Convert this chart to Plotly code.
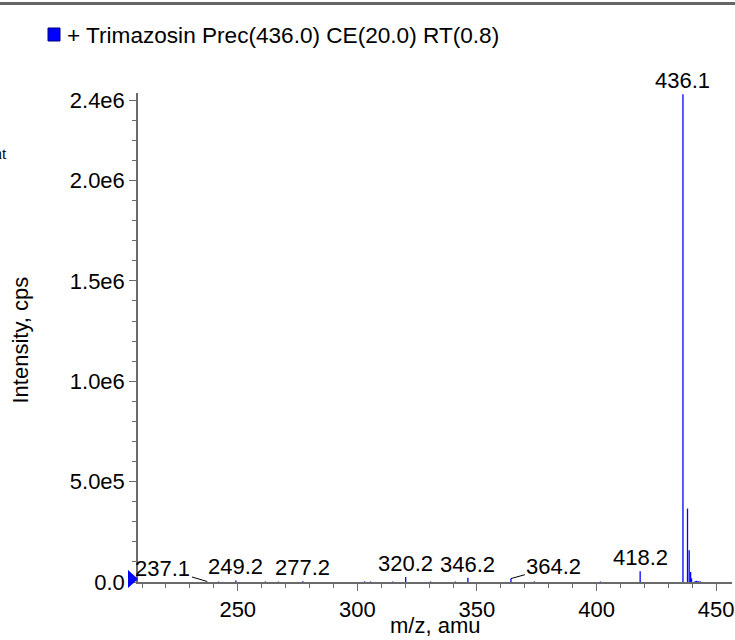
import plotly.graph_objects as go

# ---- data ----
peak_mz = [237.1, 249.2, 277.2, 320.2, 346.2, 364.2, 418.2, 436.1,
           438.0, 438.7, 439.3, 439.7, 441.2, 441.8, 442.4, 443.3,
           242.0, 261.5, 267.0, 303.0, 305.5, 314.8, 330.6, 341.0, 374.0, 401.6]
peak_int = [3000, 8000, 4000, 25000, 21000, 17000, 53000, 2430000,
            366000, 158000, 50000, 18000, 5000, 6000, 5000, 4000,
            2000, 2500, 2000, 3000, 2500, 2500, 2500, 2500, 3000, 2500]

label_mz = ["237.1", "249.2", "277.2", "320.2", "346.2", "364.2", "418.2", "436.1"]
label_int = [3000, 8000, 4000, 25000, 21000, 17000, 53000, 2430000]
# leader offsets (pixels) for labels drawn with a leader line; None = directly above
label_off = [(-44, -13), None, None, None, None, (43, -12), None, None]

x_tickvals = [250, 300, 350, 400, 450]
x_ticktext = ["250", "300", "350", "400", "450"]
y_tickvals = [0, 500000, 1000000, 1500000, 2000000, 2400000]
y_ticktext = ["0.0", "5.0e5", "1.0e6", "1.5e6", "2.0e6", "2.4e6"]

title_text = "+ Trimazosin Prec(436.0) CE(20.0) RT(0.8)"
x_title = "m/z, amu"
y_title = "Intensity, cps"

x_range = [208.3, 456.6]
y_range = [0, 2436000]

FONT = "Liberation Sans, Arial, Helvetica, sans-serif"
BLUE = "#0000FF"
AXIS = "#6a6a6a"

W, H = 735, 640
ML, MR, MT, MB = 138, 3, 93, 58
PW, PH = W - ML - MR, H - MT - MB

# ---- build stick spectrum ----
xs, ys = [], []
for m, i in zip(peak_mz, peak_int):
    xs += [m, m, None]
    ys += [0, i, None]

fig = go.Figure()
fig.add_trace(go.Scatter(x=xs, y=ys, mode="lines",
                         line=dict(color=BLUE, width=1.3),
                         hoverinfo="skip", showlegend=False, connectgaps=False))

annotations = []
for lab, inten, off in zip(label_mz, label_int, label_off):
    m = float(lab)
    if off is None:
        annotations.append(dict(x=m, y=inten, xref="x", yref="y", text=lab,
                                showarrow=False, yanchor="bottom", xanchor="center",
                                yshift=-1, font=dict(family=FONT, size=22, color="black")))
    else:
        annotations.append(dict(x=m, y=inten, xref="x", yref="y", text=lab,
                                showarrow=True, arrowhead=0, arrowwidth=1,
                                arrowcolor="black", ax=off[0], ay=off[1],
                                standoff=0, startstandoff=0,
                                font=dict(family=FONT, size=22, color="black")))

# title text
annotations.append(dict(x=0, y=1, xref="paper", yref="paper", text=title_text,
                        showarrow=False, xanchor="left", yanchor="middle",
                        xshift=-73, yshift=58,
                        font=dict(family=FONT, size=22.6, color="black")))
# axis titles
annotations.append(dict(x=0.5, y=0, xref="paper", yref="paper", text=x_title,
                        showarrow=False, xanchor="center", yanchor="middle",
                        yshift=-43, font=dict(family=FONT, size=22, color="black")))
annotations.append(dict(x=0, y=0.5, xref="paper", yref="paper", text=y_title,
                        showarrow=False, xanchor="center", yanchor="middle", textangle=-90,
                        xshift=-118, yshift=-3, font=dict(family=FONT, size=22, color="black")))
# cropped text at the left edge
annotations.append(dict(x=0, y=1, xref="paper", yref="paper", text="nt",
                        showarrow=False, xanchor="right", yanchor="middle",
                        xshift=-129, yshift=-60,
                        font=dict(family="Liberation Serif, DejaVu Serif, serif",
                                  size=16, color="black")))

shapes = [
    # top border line
    dict(type="rect", xref="paper", yref="paper", xsizemode="pixel", ysizemode="pixel",
         xanchor=0, yanchor=1, x0=-ML - 2, x1=PW + MR + 2, y0=MT - 5, y1=MT - 2,
         fillcolor="#666666", line=dict(width=0), layer="above"),
    # legend square
    dict(type="rect", xref="paper", yref="paper", xsizemode="pixel", ysizemode="pixel",
         xanchor=0, yanchor=1, x0=-90, x1=-78, y0=52, y1=65,
         fillcolor=BLUE, line=dict(color="#000080", width=1)),
    # baseline triangle marker
    dict(type="path", xref="paper", yref="paper", xsizemode="pixel", ysizemode="pixel",
         xanchor=0, yanchor=0, path="M -10,12 L 0,3 L -10,-6 Z",
         fillcolor=BLUE, line=dict(color=BLUE, width=0)),
]

fig.update_layout(
    width=W, height=H,
    margin=dict(l=ML, r=MR, t=MT, b=MB, autoexpand=False),
    paper_bgcolor="white", plot_bgcolor="white",
    font=dict(family=FONT, size=22, color="black"),
    showlegend=False,
    annotations=annotations,
    shapes=shapes,
)
fig.update_xaxes(range=x_range, showgrid=False, zeroline=False, automargin=False,
                 showline=True, linecolor=AXIS, linewidth=1.5,
                 ticks="outside", ticklen=7, tickcolor=AXIS, tickwidth=1,
                 tickvals=x_tickvals, ticktext=x_ticktext,
                 tickfont=dict(family=FONT, size=22, color="black"),
                 minor=dict(dtick=10, tick0=0, ticks="outside", ticklen=4,
                            tickcolor=AXIS, tickwidth=1, showgrid=False))
fig.update_yaxes(range=y_range, showgrid=False, zeroline=False, automargin=False,
                 showline=True, linecolor=AXIS, linewidth=1.5,
                 ticks="outside", ticklen=7, tickcolor=AXIS, tickwidth=1,
                 tickvals=y_tickvals, ticktext=y_ticktext,
                 tickfont=dict(family=FONT, size=22, color="black"),
                 minor=dict(dtick=100000, tick0=0, ticks="outside", ticklen=4,
                            tickcolor=AXIS, tickwidth=1, showgrid=False))

fig.write_html("out.html", config={"displayModeBar": False},
               post_script="document.body.style.margin='0';document.body.style.padding='0';")
